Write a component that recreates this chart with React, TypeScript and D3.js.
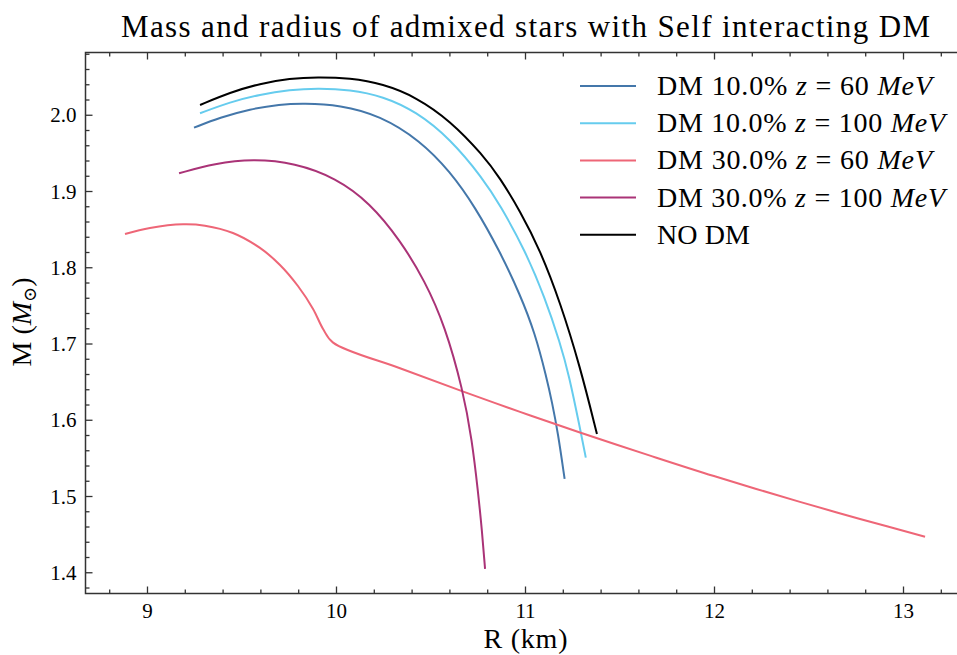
import React, { useEffect, useRef } from 'react';
import * as d3 from 'd3';

// radius (km) and mass (Msun)
const R_DM10_60 = [9.246, 9.384, 9.542, 9.701, 9.823, 10.019, 10.23, 10.442, 10.601, 10.733, 10.865, 10.971, 11.05, 11.112, 11.14, 11.172, 11.207];
const M_DM10_60 = [1.9837, 1.9971, 2.0081, 2.0143, 2.0157, 2.0135, 1.9997, 1.967, 1.9263, 1.88, 1.8211, 1.765, 1.7145, 1.6555, 1.624, 1.5833, 1.523];

const R_DM10_100 = [9.278, 9.437, 9.595, 9.754, 9.897, 10.071, 10.246, 10.421, 10.601, 10.775, 10.865, 10.997, 11.103, 11.183, 11.23, 11.288, 11.319];
const M_DM10_100 = [2.0026, 2.0174, 2.0273, 2.0334, 2.0354, 2.0337, 2.0249, 2.005, 1.9693, 1.917, 1.8824, 1.8233, 1.7604, 1.7014, 1.6594, 1.5899, 1.551];

const R_DM30_60 = [8.881, 9.013, 9.188, 9.304, 9.452, 9.595, 9.701, 9.796, 9.876, 9.929, 9.982, 10.336, 10.671, 10.971, 11.288, 11.659, 11.997, 12.452, 12.77, 13.114];
const M_DM30_60 = [1.8443, 1.8522, 1.857, 1.8552, 1.8456, 1.826, 1.8037, 1.7761, 1.746, 1.7197, 1.7018, 1.6682, 1.6375, 1.611, 1.5839, 1.5536, 1.5268, 1.493, 1.4706, 1.4472];

const R_DM30_100 = [9.167, 9.357, 9.558, 9.78, 9.997, 10.177, 10.336, 10.468, 10.574, 10.669, 10.717, 10.749, 10.77, 10.786];
const M_DM30_100 = [1.9239, 1.9368, 1.9427, 1.9374, 1.9178, 1.885, 1.8365, 1.7827, 1.7237, 1.6397, 1.5742, 1.506, 1.4548, 1.405];

const R_NO_DM = [9.278, 9.437, 9.595, 9.754, 9.897, 10.071, 10.246, 10.421, 10.601, 10.775, 10.865, 10.971, 11.077, 11.183, 11.288, 11.378];
const M_NO_DM = [2.0135, 2.0299, 2.0416, 2.0483, 2.0502, 2.0488, 2.0412, 2.0239, 1.993, 1.9478, 1.9178, 1.8745, 1.8233, 1.7551, 1.6712, 1.582];

const LABELS = [
  ['DM 10.0% ', 'z', ' = 60 ', 'MeV'],
  ['DM 10.0% ', 'z', ' = 100 ', 'MeV'],
  ['DM 30.0% ', 'z', ' = 60 ', 'MeV'],
  ['DM 30.0% ', 'z', ' = 100 ', 'MeV'],
  ['NO DM'],
];
const COLORS = ['#4477aa', '#66ccee', '#ee6677', '#aa3377', '#000000'];

const X_TICKS = [9, 10, 11, 12, 13];
const Y_TICKS = [1.4, 1.5, 1.6, 1.7, 1.8, 1.9, 2.0];

const FONT = '"Liberation Serif", "DejaVu Serif", serif';

function App() {
  const ref = useRef(null);

  useEffect(() => {
    const W = 957, H = 655;
    const left = 85.5, right = 965.5, top = 52.5, bottom = 593.5;

    const svg = d3.select(ref.current).attr('width', W).attr('height', H);
    svg.selectAll('*').remove();

    const x = d3.scaleLinear().domain([8.672, 13.328]).range([left, right]);
    const y = d3.scaleLinear().domain([1.3728, 2.0823]).range([bottom, top]);

    const series = [
      { r: R_DM10_60, m: M_DM10_60 },
      { r: R_DM10_100, m: M_DM10_100 },
      { r: R_DM30_60, m: M_DM30_60, kinked: true },
      { r: R_DM30_100, m: M_DM30_100 },
      { r: R_NO_DM, m: M_NO_DM },
    ].map((s, i) => ({
      pts: s.r.map((r, j) => [r, s.m[j]]),
      kinked: !!s.kinked,
      color: COLORS[i],
      label: LABELS[i],
    }));

    // smooth curves get a B-spline, the one with the kink keeps its corners
    const smooth = d3.line().x(d => x(d[0])).y(d => y(d[1])).curve(d3.curveBasis);
    const sharp = d3.line().x(d => x(d[0])).y(d => y(d[1])).curve(d3.curveCatmullRom.alpha(0.5));

    const plot = svg.append('g');
    series.forEach(s => {
      plot.append('path')
        .attr('d', (s.kinked ? sharp : smooth)(s.pts))
        .attr('fill', 'none')
        .attr('stroke', s.color)
        .attr('stroke-width', 2);
    });

    // ticks, inward on all sides
    const axis = svg.append('g').attr('stroke', '#333').attr('stroke-width', 1.3);
    const xMinor = d3.ticks(8.672, 13.328, 25).filter(v => Math.abs(v - Math.round(v)) > 1e-6);
    const yMinor = d3.ticks(1.3728, 2.0823, 35).filter(v => Math.abs(v * 10 - Math.round(v * 10)) > 1e-6);

    X_TICKS.forEach(v => {
      axis.append('line').attr('x1', x(v)).attr('x2', x(v)).attr('y1', bottom).attr('y2', bottom - 7);
      axis.append('line').attr('x1', x(v)).attr('x2', x(v)).attr('y1', top).attr('y2', top + 7);
    });
    xMinor.forEach(v => {
      axis.append('line').attr('x1', x(v)).attr('x2', x(v)).attr('y1', bottom).attr('y2', bottom - 4);
      axis.append('line').attr('x1', x(v)).attr('x2', x(v)).attr('y1', top).attr('y2', top + 4);
    });
    Y_TICKS.forEach(v => {
      axis.append('line').attr('x1', left).attr('x2', left + 7).attr('y1', y(v)).attr('y2', y(v));
      axis.append('line').attr('x1', right).attr('x2', right - 7).attr('y1', y(v)).attr('y2', y(v));
    });
    yMinor.forEach(v => {
      axis.append('line').attr('x1', left).attr('x2', left + 4).attr('y1', y(v)).attr('y2', y(v));
      axis.append('line').attr('x1', right).attr('x2', right - 4).attr('y1', y(v)).attr('y2', y(v));
    });
    svg.append('rect')
      .attr('x', left).attr('y', top)
      .attr('width', right - left).attr('height', bottom - top)
      .attr('fill', 'none').attr('stroke', '#333').attr('stroke-width', 1.5);

    // tick labels
    svg.append('g').selectAll('text').data(X_TICKS).enter().append('text')
      .attr('x', d => x(d)).attr('y', bottom + 24)
      .attr('text-anchor', 'middle')
      .attr('font-family', FONT).attr('font-size', 21)
      .text(d => d);
    svg.append('g').selectAll('text').data(Y_TICKS).enter().append('text')
      .attr('x', left - 9).attr('y', d => y(d) + 7)
      .attr('text-anchor', 'end')
      .attr('font-family', FONT).attr('font-size', 21)
      .text(d => d.toFixed(1));

    // axis labels and title
    svg.append('text')
      .attr('x', (left + right) / 2).attr('y', 648)
      .attr('text-anchor', 'middle')
      .attr('font-family', FONT).attr('font-size', 28)
      .attr('textLength', 84).attr('lengthAdjust', 'spacing')
      .text('R (km)');

    const yl = svg.append('text')
      .attr('transform', `translate(31, ${(top + bottom) / 2 - 1}) rotate(-90)`)
      .attr('text-anchor', 'middle')
      .attr('font-family', FONT).attr('font-size', 28);
    yl.append('tspan').text('M (');
    yl.append('tspan').attr('font-style', 'italic').text('M');
    yl.append('tspan').attr('font-size', 18).attr('dy', 5).text('\u2299');
    yl.append('tspan').attr('dy', -5).text(')');

    svg.append('text')
      .attr('x', (left + right) / 2).attr('y', 37)
      .attr('text-anchor', 'middle')
      .attr('font-family', FONT).attr('font-size', 31)
      .attr('textLength', 809).attr('lengthAdjust', 'spacing')
      .text('Mass and radius of admixed stars with Self interacting DM');

    // legend
    const rowWidth = [275, 288, 275, 288, 93];
    const lg = svg.append('g');
    series.forEach((s, i) => {
      const cy = 86 + i * 37.2;
      lg.append('line')
        .attr('x1', 580).attr('x2', 636).attr('y1', cy).attr('y2', cy)
        .attr('stroke', s.color).attr('stroke-width', 2);
      const t = lg.append('text')
        .attr('x', 657).attr('y', cy + 9)
        .attr('font-family', FONT).attr('font-size', 28)
        .attr('textLength', rowWidth[i]).attr('lengthAdjust', 'spacing');
      s.label.forEach((part, k) => {
        t.append('tspan').attr('font-style', k % 2 === 1 ? 'italic' : 'normal')
          .style('white-space', 'pre').text(part);
      });
    });
  }, []);

  return (
    <div style={{ position: 'absolute', left: 0, top: 0 }}>
      <svg ref={ref} style={{ display: 'block' }}></svg>
    </div>
  );
}

export default App;
